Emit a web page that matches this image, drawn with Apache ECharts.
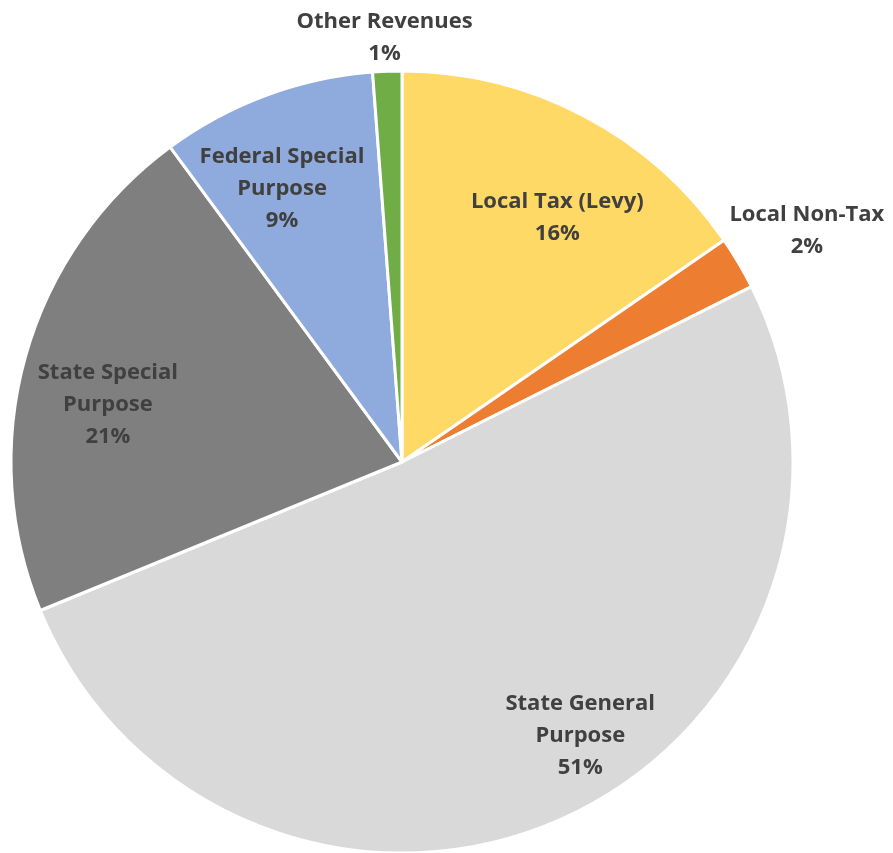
<!DOCTYPE html>
<html>
<head>
<meta charset="utf-8">
<script src="https://cdn.jsdelivr.net/npm/echarts@6/dist/echarts.min.js"></script>
<style>
  html, body { margin: 0; padding: 0; background: #ffffff; }
  #chart { width: 893px; height: 853px; }
</style>
</head>
<body>
<div id="chart"></div>
<script>
// Revenue sources, share of total (percent), clockwise from 12 o'clock
const categories = [
  'Local Tax (Levy)',
  'Local Non-Tax',
  'State General Purpose',
  'State Special Purpose',
  'Federal Special Purpose',
  'Other Revenues'
];
const shares = [15.4, 2.2, 51.2, 21.1, 8.9, 1.2];
const shareLabels = ['16%', '2%', '51%', '21%', '9%', '1%'];
// Label text as broken over lines
const labelLines = [
  ['Local Tax (Levy)'],
  ['Local Non-Tax'],
  ['State General', 'Purpose'],
  ['State Special', 'Purpose'],
  ['Federal Special', 'Purpose'],
  ['Other Revenues']
];

const sliceColors = ['#FFD966', '#ED7D31', '#D9D9D9', '#7F7F7F', '#8FAADC', '#70AD47'];
// Shift of each label from its default inside spot
const labelShift = [
  [63, -69], [234, -130], [96, 93], [-103, -4], [-51, -87], [-10, -226]
];

const chart = echarts.init(document.getElementById('chart'), null, { renderer: 'canvas' });

chart.setOption({
  animation: false,
  series: [{
    type: 'pie',
    center: [402, 462],
    radius: [0, 391],
    startAngle: 90,
    clockwise: true,
    avoidLabelOverlap: false,
    itemStyle: { borderColor: '#ffffff', borderWidth: 3 },
    emphasis: { disabled: true },
    label: {
      show: true,
      position: 'inside',
      color: '#404040',
      fontFamily: '"Open Sans", "Noto Sans", sans-serif',
      fontWeight: 'bold',
      fontSize: 22,
      lineHeight: 32,
      align: 'center',
      verticalAlign: 'middle',
      formatter: (p) => labelLines[p.dataIndex].concat(shareLabels[p.dataIndex]).join('\n')
    },
    labelLine: { show: false },
    labelLayout: (p) => ({ dx: labelShift[p.dataIndex][0], dy: labelShift[p.dataIndex][1] }),
    data: categories.map((name, i) => ({
      name: name,
      value: shares[i],
      itemStyle: { color: sliceColors[i] }
    }))
  }]
});
</script>
</body>
</html>
